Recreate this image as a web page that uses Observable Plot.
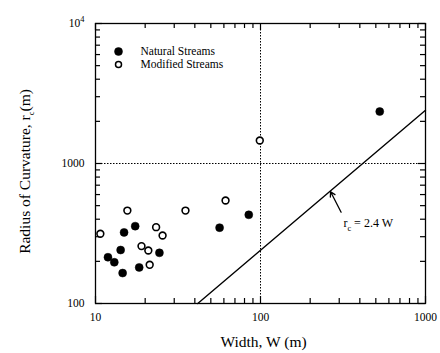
<!DOCTYPE html>
<html><head><meta charset="utf-8">
<script src="https://cdn.jsdelivr.net/npm/d3@7"></script>
<script src="https://cdn.jsdelivr.net/npm/@observablehq/plot@0.6"></script>
<style>body{margin:0;background:#fff}</style>
</head><body><div id="chart"></div>
<script>
// ---- data ----
const naturalW = [11.9, 13.0, 14.6, 14.2, 14.9, 17.4, 18.4, 24.4, 56.5, 84.9, 528];
const naturalR = [214, 197, 165, 241, 322, 357, 181, 230, 348, 430, 2350];
const modifiedW = [10.7, 15.6, 35.1, 23.3, 25.5, 19.0, 20.9, 21.3, 99, 61.4];
const modifiedR = [315, 461, 461, 351, 306, 257, 239, 189, 1460, 544];
const fitW = [41.67, 1000];        // r_c = 2.4 W
const fitR = [100, 2400];
const xMajor = [10, 100, 1000];
const xMinor = [20, 30, 40, 50, 60, 70, 80, 90, 200, 300, 400, 500, 600, 700, 800, 900];
const yMajor = [100, 1000, 10000];
const yMinor = [200, 300, 400, 500, 600, 700, 800, 900, 2000, 3000, 4000, 5000, 6000, 7000, 8000, 9000];
const xTickLabels = ["10", "100", "1000"];
const yTickLabels = ["100", "1000", "10^4"];
const gridX = [100];
const gridY = [1000];
const seriesNames = ["Natural Streams", "Modified Streams"];
const fitLabel = "r_c = 2.4 W";
const fitLabelAt = [318, 373];      // W, r of label start
const arrowFrom = [308, 449];       // W, r
const arrowTo = [266, 628];         // W, r (on the line)
const xTitle = "Width, W (m)";
const yTitle = "Radius of Curvature, r_c(m)";

const width = 440, height = 353;
const mL = 95, mR = 15, mT = 23, mB = 50;
const FW = width - mL - mR, FH = height - mT - mB;
const font = "'Liberation Serif', 'Times New Roman', serif";

const chart = Plot.plot({
  width, height,
  marginLeft: mL, marginRight: mR, marginTop: mT, marginBottom: mB,
  style: {fontFamily: font, fontSize: "11px", background: "white", color: "black", overflow: "visible"},
  x: {type: "log", domain: [10, 1000], axis: null},
  y: {type: "log", domain: [100, 10000], axis: null},
  marks: [
    Plot.ruleX(gridX, {x: d => d, stroke: "black", strokeWidth: 1, strokeDasharray: "1.5,1.5"}),
    Plot.ruleY(gridY, {y: d => d, stroke: "black", strokeWidth: 1, strokeDasharray: "1.5,1.5"}),
    // inward ticks, all four sides
    Plot.ruleX(xMajor, {x: d => d, insetTop: FH - 7, stroke: "black", strokeWidth: 1.2}),
    Plot.ruleX(xMinor, {x: d => d, insetTop: FH - 5, stroke: "black", strokeWidth: 1.2}),
    Plot.ruleX(xMajor, {x: d => d, insetBottom: FH - 7, stroke: "black", strokeWidth: 1.2}),
    Plot.ruleX(xMinor, {x: d => d, insetBottom: FH - 5, stroke: "black", strokeWidth: 1.2}),
    Plot.ruleY(yMajor, {y: d => d, insetRight: FW - 7, stroke: "black", strokeWidth: 1.2}),
    Plot.ruleY(yMinor, {y: d => d, insetRight: FW - 5, stroke: "black", strokeWidth: 1.2}),
    Plot.ruleY(yMajor, {y: d => d, insetLeft: FW - 7, stroke: "black", strokeWidth: 1.2}),
    Plot.ruleY(yMinor, {y: d => d, insetLeft: FW - 5, stroke: "black", strokeWidth: 1.2}),
    Plot.frame({stroke: "black", strokeWidth: 1.3}),
    // tick labels
    Plot.text(xMajor, {x: d => d, frameAnchor: "bottom", dy: 9, lineAnchor: "top", text: (d, i) => xTickLabels[i], fontSize: 11.5}),
    Plot.text(yMajor, {y: d => d, frameAnchor: "left", dx: -11, textAnchor: "end", text: (d, i) => yTickLabels[i], fontSize: 11.5}),
    // axis titles
    Plot.text([xTitle], {frameAnchor: "bottom", dx: 3, dy: 43, lineAnchor: "bottom", textAnchor: "middle", fontSize: 15.5}),
    Plot.text([yTitle], {frameAnchor: "left", dx: -70, dy: 8, rotate: -90, textAnchor: "middle", lineAnchor: "middle", fontSize: 15.5}),
    // fitted line
    Plot.line(fitW, {x: fitW, y: fitR, stroke: "black", strokeWidth: 1.4}),
    Plot.arrow([0], {x1: arrowFrom[0], y1: arrowFrom[1], x2: arrowTo[0], y2: arrowTo[1], stroke: "black", strokeWidth: 1.3, headLength: 6}),
    Plot.text([fitLabel], {x: fitLabelAt[0], y: fitLabelAt[1], textAnchor: "start", fontSize: 12}),
    // data
    Plot.dot(naturalW, {x: naturalW, y: naturalR, r: 4, fill: "black", stroke: "black", strokeWidth: 0.5}),
    Plot.dot(modifiedW, {x: modifiedW, y: modifiedR, r: 3.4, fill: "white", stroke: "black", strokeWidth: 1.6}),
    // legend
    Plot.dot([seriesNames[0]], {frameAnchor: "top-left", dx: 23, dy: 28, r: 4, fill: "black", stroke: "black", strokeWidth: 0.5}),
    Plot.dot([seriesNames[1]], {frameAnchor: "top-left", dx: 23, dy: 41, r: 3, fill: "white", stroke: "black", strokeWidth: 1.5}),
    Plot.text([seriesNames[0]], {frameAnchor: "top-left", dx: 45, dy: 28, lineAnchor: "middle", textAnchor: "start", fontSize: 11.5}),
    Plot.text([seriesNames[1]], {frameAnchor: "top-left", dx: 45, dy: 41, lineAnchor: "middle", textAnchor: "start", fontSize: 11.5})
  ]
});

// rich text: "_x" subscript, "^x" superscript
d3.select(chart).selectAll("text").each(function () {
  const el = this;
  const t = el.textContent;
  if (!/[_^]/.test(t)) return;
  const fs = parseFloat(getComputedStyle(el).fontSize) || 12;
  el.textContent = "";
  const re = /([_^])(\w)/g;
  let last = 0, m, pending = 0;
  while ((m = re.exec(t)) !== null) {
    if (m.index > last) {
      const s = d3.select(el).append("tspan").text(t.slice(last, m.index));
      if (pending) { s.attr("dy", -pending); pending = 0; }
    }
    const shift = m[1] === "_" ? fs * 0.3 : -fs * 0.4;
    d3.select(el).append("tspan").attr("dy", shift).attr("font-size", fs * 0.7).text(m[2]);
    pending = shift;
    last = re.lastIndex;
  }
  if (last < t.length) {
    const s = d3.select(el).append("tspan").text(t.slice(last));
    if (pending) s.attr("dy", -pending);
  }
});

document.getElementById("chart").append(chart);
</script>
</body></html>
